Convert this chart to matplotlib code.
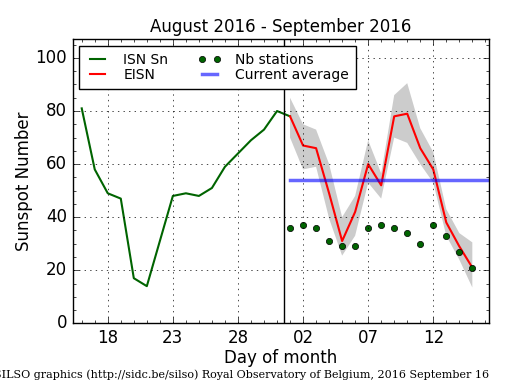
import matplotlib
matplotlib.use("Agg")
import matplotlib.pyplot as plt
from matplotlib.ticker import MultipleLocator, FixedLocator
import numpy as np

plt.style.use('classic')

# days counted from Aug 1 (Sep 1 = 32)
isn_days = np.arange(16, 33)
isn_vals = [81, 58, 49, 47, 17, 14, 31, 48, 49, 48, 51, 59, 64, 69, 73, 80, 78]

eisn_days = np.arange(32, 47)
eisn_vals = [78, 67, 66, 49, 31, 42, 60, 52, 78, 79, 66, 58, 38, 29, 21]
eisn_upper = [85, 75, 73, 60, 40, 48, 69, 56.5, 86, 90.5, 73.5, 64.5, 43, 34, 30.5]
eisn_lower = [70, 58, 59, 39.5, 25.5, 33, 53, 47, 70, 68, 60, 53, 33, 24, 13.5]
nb_stations = [36, 37, 36, 31, 29, 29, 36, 37, 36, 34, 30, 37, 33, 27, 21]

current_avg = 54
tick_days = [18, 23, 28, 33, 38, 43]
tick_labels = ['18', '23', '28', '02', '07', '12']

fig = plt.figure(figsize=(5.15, 3.9), dpi=100, facecolor='white')
ax = fig.add_axes([0.141, 0.171, 0.809, 0.728])

ax.fill_between(eisn_days, eisn_lower, eisn_upper, color='0.8', edgecolor='none')
ax.plot(isn_days, isn_vals, color='darkgreen', lw=1.5, label='ISN Sn')
ax.plot(eisn_days, eisn_vals, color='red', lw=1.5, label='EISN')
ax.plot(eisn_days, nb_stations, 'o', color='darkgreen', mec='black', mew=0.5,
        ms=4.5, label='Nb stations')
ax.plot([32, 47.3], [current_avg, current_avg], color='blue', alpha=0.6, lw=2.5,
        label='Current average')
ax.axvline(31.5, color='black', lw=1)

ax.set_xlim(15.3, 47.3)
ax.set_ylim(0, 107)
ax.xaxis.set_major_locator(FixedLocator(tick_days))
ax.set_xticklabels(tick_labels)
ax.xaxis.set_minor_locator(MultipleLocator(1))
ax.yaxis.set_major_locator(MultipleLocator(20))
ax.yaxis.set_minor_locator(MultipleLocator(5))
ax.tick_params(labelsize=12)
ax.grid(True, which='major', color='black', linestyle=':')

ax.set_title('August 2016 - September 2016', fontsize=12)
ax.set_xlabel('Day of month', fontsize=12, labelpad=1.5)
ax.set_ylabel('Sunspot Number', fontsize=12, labelpad=2)

ax.legend(loc='upper left', ncol=2, fontsize=10, numpoints=2,
          borderaxespad=0.45, handlelength=1.7, handletextpad=1.0,
          columnspacing=2.1, labelspacing=0.1, borderpad=0.5)

fig.text(0.47, 0.032, 'SILSO graphics (http://sidc.be/silso) Royal Observatory of Belgium, 2016 September 16',
         ha='center', fontsize=8, family='DejaVu Serif')

fig.savefig('out.png', dpi=100, facecolor='white')
